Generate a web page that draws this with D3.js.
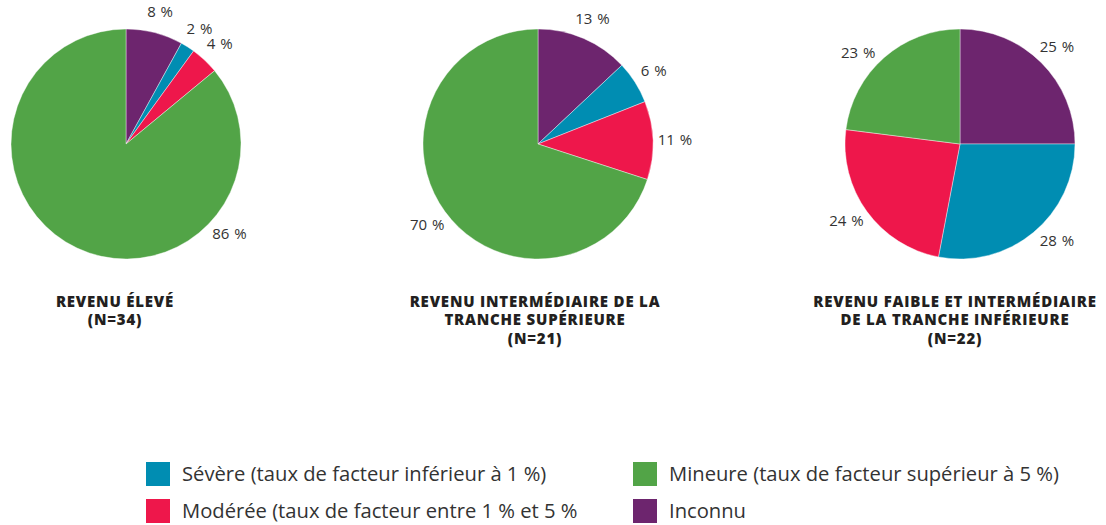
<!DOCTYPE html>
<html><head><meta charset="utf-8">
<script src="https://cdn.jsdelivr.net/npm/d3@7"></script>
<style>
html,body{margin:0;padding:0;background:#fff;}
svg{display:block;}
</style></head>
<body>
<svg id="chart" width="1106" height="525"></svg>
<script>
// ---- data ----
const categories = ["Inconnu", "Sévère", "Modérée", "Mineure"];
const pieTitles = [
  ["REVENU ÉLEVÉ", "(N=34)"],
  ["REVENU INTERMÉDIAIRE DE LA", "TRANCHE SUPÉRIEURE", "(N=21)"],
  ["REVENU FAIBLE ET INTERMÉDIAIRE", "DE LA TRANCHE INFÉRIEURE", "(N=22)"]
];
const revenuEleve = [8, 2, 4, 86];
const revenuIntermediaireSup = [13, 6, 11, 70];
const revenuFaibleInf = [25, 28, 24, 23];
const legendOrder = ["Sévère", "Mineure", "Modérée", "Inconnu"];
const legendLabels = {
  "Sévère": "Sévère (taux de facteur inférieur à 1 %)",
  "Mineure": "Mineure (taux de facteur supérieur à 5 %)",
  "Modérée": "Modérée (taux de facteur entre 1 % et 5 %",
  "Inconnu": "Inconnu"
};

// ---- layout ----
const series = [revenuEleve, revenuIntermediaireSup, revenuFaibleInf];
const centersX = [126, 538, 960];
const cy = 144, R = 115, labelR = 137;
const titleX = [115, 535, 955];
const color = d3.scaleOrdinal().domain(categories)
  .range(["#6d256e", "#008db2", "#ee174b", "#52a447"]);
// label angle overrides (degrees, clockwise from top)
const labelAngleOverride = {"0-3": 131, "2-1": 135, "2-2": 236, "2-3": 312};

const svg = d3.select("#chart");
const pie = d3.pie().sort(null).value(d => d.v);
const arc = d3.arc().innerRadius(0).outerRadius(R);
const FONT = "'Open Sans', Lato, sans-serif";

series.forEach((vals, i) => {
  const g = svg.append("g").attr("transform", `translate(${centersX[i]},${cy})`);
  const arcs = pie(vals.map((v, k) => ({v, cat: categories[k]})));
  g.selectAll("path").data(arcs).join("path")
    .attr("d", arc)
    .attr("fill", d => color(d.data.cat))
    .attr("stroke", "#ffffff").attr("stroke-width", 0.4);
  g.selectAll("text.lbl").data(arcs).join("text")
    .attr("class", "lbl")
    .attr("transform", (d, k) => {
      let a = (d.startAngle + d.endAngle) / 2;
      const key = i + "-" + k;
      if (labelAngleOverride[key] !== undefined) a = labelAngleOverride[key] * Math.PI / 180;
      return `translate(${Math.sin(a) * labelR},${-Math.cos(a) * labelR})`;
    })
    .attr("text-anchor", "middle").attr("dy", "0.35em")
    .style("font-family", FONT)
    .style("font-size", "15px").style("fill", "#333")
    .style("word-spacing", "1px")
    .text(d => d.data.v + " %");

  const t = svg.append("text")
    .attr("x", titleX[i]).attr("y", 307)
    .attr("text-anchor", "middle")
    .style("font-family", FONT)
    .style("font-weight", "800").style("font-size", "15px")
    .style("letter-spacing", "0.8px").style("fill", "#231f20");
  pieTitles[i].forEach((line, j) => {
    t.append("tspan").attr("x", titleX[i]).attr("dy", j === 0 ? 0 : 18.3).text(line);
  });
});

// legend
const legX = [146, 633], legY = [462, 499];
legendOrder.forEach((cat, k) => {
  const col = k % 2, row = Math.floor(k / 2);
  const g = svg.append("g").attr("transform", `translate(${legX[col]},${legY[row]})`);
  g.append("rect").attr("width", 24).attr("height", 24).attr("fill", color(cat));
  g.append("text").attr("x", 36).attr("y", 12).attr("dy", "0.33em")
    .style("font-family", FONT)
    .style("font-size", "20.2px").style("fill", "#333")
    .text(legendLabels[cat]);
});
</script>
</body></html>
